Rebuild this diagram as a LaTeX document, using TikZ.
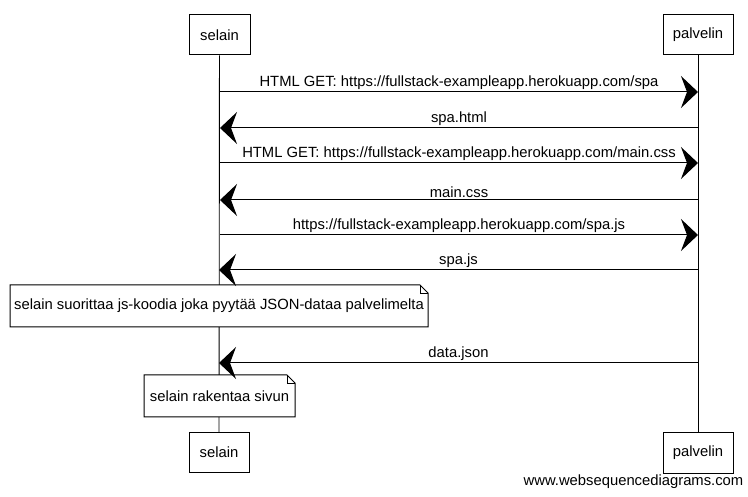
\documentclass[tikz,border=0pt]{standalone}
\usepackage{fontspec}
\setmainfont{Liberation Sans}
\usetikzlibrary{arrows.meta}
\pgfdeclarelayer{bg}
\pgfdeclarelayer{mid}
\pgfsetlayers{bg,mid,main}
\begin{document}
\begin{tikzpicture}[x=1pt,y=-1pt,
  font=\fontsize{14.8}{17}\selectfont,
  actor/.style={draw, line width=1pt, minimum height=40pt, inner sep=0pt},
  msg/.style={line width=1pt, -{Stealth[length=17pt,width=32pt,inset=6pt]}},
  lbl/.style={anchor=south, inner sep=1.5pt},
  lifeline/.style={line width=0.9pt},
  notebox/.style={draw, line width=1pt, fill=white},
  notetext/.style={inner sep=0pt}]
\useasboundingbox (0,0) rectangle (748,497);

% actors
\node[actor, minimum width=61pt] (s1) at (219.5,35) {selain};
\node[actor, minimum width=70pt] (p1) at (698,35) {palvelin};
\node[actor, minimum width=60pt] (s2) at (219,452.5) {selain};
\node[actor, minimum width=70pt] (p2) at (698,453) {palvelin};

% lifelines
\begin{pgfonlayer}{bg}
\draw[lifeline] (s1) -- (s2);
\draw[lifeline] (p1) -- (p2);
\end{pgfonlayer}

% message end points
\coordinate (s-1) at (220,92);  \coordinate (p-1) at (698,92);
\coordinate (s-2) at (220,128); \coordinate (p-2) at (698,128);
\coordinate (s-3) at (220,163); \coordinate (p-3) at (698,163);
\coordinate (s-4) at (220,200); \coordinate (p-4) at (698,200);
\coordinate (s-5) at (220,235); \coordinate (p-5) at (698,235);
\coordinate (s-6) at (219,270); \coordinate (p-6) at (698,270);
\coordinate (s-7) at (219,363); \coordinate (p-7) at (698,363);

\draw[msg] (s-1) -- node[lbl] (l1) {HTML GET: https://fullstack-exampleapp.herokuapp.com/spa} (p-1);
\draw[msg] (p-2) -- node[lbl] (l2) {spa.html} (s-2);
\draw[msg] (s-3) -- node[lbl] (l3) {HTML GET: https://fullstack-exampleapp.herokuapp.com/main.css} (p-3);
\draw[msg] (p-4) -- node[lbl] (l4) {main.css} (s-4);
\draw[msg] (s-5) -- node[lbl] (l5) {https://fullstack-exampleapp.herokuapp.com/spa.js} (p-5);
\draw[msg] (p-6) -- node[lbl] (l6) {spa.js} (s-6);
\draw[msg] (p-7) -- node[lbl] (l7) {data.json} (s-7);

% notes
\begin{pgfonlayer}{mid}
\draw[notebox] (10,285) -- (420,285) -- (428,293) -- (428,327) -- (10,327) -- cycle;
\draw[line width=0.7pt] (420,285) -- (420,293) -- (428,293);
\draw[notebox] (144,375) -- (287,375) -- (295,383) -- (295,417) -- (144,417) -- cycle;
\draw[line width=0.7pt] (287,375) -- (287,383) -- (295,383);
\end{pgfonlayer}
\node[notetext] (n1) at (219,306) {selain suorittaa js-koodia joka pyytää JSON-dataa palvelimelta};
\node[notetext] (n2) at (219.5,396) {selain rakentaa sivun};

\node[inner sep=0pt] (wsd) at (633.5,482) {www.websequencediagrams.com};
\end{tikzpicture}
\end{document}
